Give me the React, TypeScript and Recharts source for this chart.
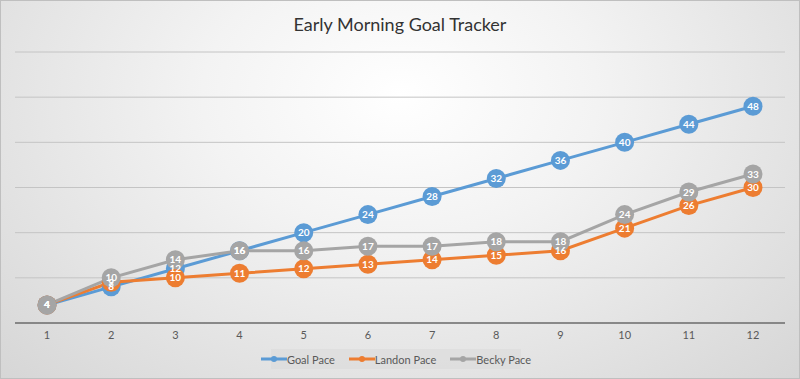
import React from 'react';
import { LineChart, Line, XAxis, YAxis, CartesianGrid, Legend, LabelList } from 'recharts';

const days = ['1', '2', '3', '4', '5', '6', '7', '8', '9', '10', '11', '12'];
const goalPace = [4, 8, 12, 16, 20, 24, 28, 32, 36, 40, 44, 48];
const landonPace = [4, 9, 10, 11, 12, 13, 14, 15, 16, 21, 26, 30];
const beckyPace = [4, 10, 14, 16, 16, 17, 17, 18, 18, 24, 29, 33];
const yTicks = [0, 10, 20, 30, 40, 50, 60];

const data = days.map((d, i) => ({
  day: d,
  goal: goalPace[i],
  landon: landonPace[i],
  becky: beckyPace[i],
}));

const series = [
  { key: 'goal', name: 'Goal Pace', color: '#5B9BD5' },
  { key: 'landon', name: 'Landon Pace', color: '#ED7D31' },
  { key: 'becky', name: 'Becky Pace', color: '#A5A5A5' },
];

const FONT = 'Lato, "Open Sans", sans-serif';

const LegendBox = () => (
  <div
    style={{
      display: 'flex',
      justifyContent: 'center',
      alignItems: 'center',
      gap: 14,
      background: 'rgba(215,215,215,0.45)',
      height: 20,
      whiteSpace: 'nowrap',
      fontFamily: FONT,
      fontSize: 11,
      color: '#595959',
    }}
  >
    {series.map((s) => (
      <span key={s.key} style={{ display: 'flex', alignItems: 'center' }}>
        <svg width={26} height={10}>
          <line x1={0} y1={5} x2={26} y2={5} stroke={s.color} strokeWidth={3} />
          <circle cx={13} cy={5} r={3} fill={s.color} />
        </svg>
        <span>{s.name}</span>
      </span>
    ))}
  </div>
);

export default function App() {
  return (
    <div
      style={{
        position: 'absolute',
        left: 0,
        top: 0,
        width: 798,
        height: 377,
        border: '1px solid #bfbfbf',
        background: 'radial-gradient(ellipse at 50% 25%, #ffffff 0%, #f3f3f3 35%, #d6d6d6 100%)',
      }}
    >
      <div
        style={{
          position: 'absolute',
          top: 12,
          width: '100%',
          textAlign: 'center',
          fontFamily: FONT,
          fontSize: 18,
          color: '#333333',
        }}
      >
        Early Morning Goal Tracker
      </div>
      <LineChart
        width={798}
        height={377}
        data={data}
        margin={{ top: 51, right: 14, left: 14, bottom: 25 }}
      >
        <CartesianGrid vertical={false} stroke="#c4c4c4" strokeWidth={1} />
        <XAxis
          dataKey="day"
          height={30}
          padding={{ left: 32, right: 32 }}
          tickLine={false}
          axisLine={{ stroke: '#6f6f6f', strokeWidth: 1.5 }}
          tick={{ fill: '#595959', fontSize: 11, fontFamily: FONT }}
          interval={0}
        />
        <YAxis hide domain={[0, 60]} ticks={yTicks} />
        <Legend
          verticalAlign="middle"
          align="center"
          layout="horizontal"
          content={<LegendBox />}
          wrapperStyle={{ position: 'absolute', top: 348, left: 270, width: 250 }}
        />
        {series.map((s) => (
          <Line
            key={s.key}
            dataKey={s.key}
            name={s.name}
            stroke={s.color}
            strokeWidth={3}
            dot={{ r: 9.5, fill: s.color, stroke: 'none' }}
            activeDot={false}
            isAnimationActive={false}
          >
            <LabelList
              dataKey={s.key}
              position="center"
              fill="#ffffff"
              fontSize={10}
              fontWeight="bold"
              fontFamily={FONT}
            />
          </Line>
        ))}
      </LineChart>
    </div>
  );
}
